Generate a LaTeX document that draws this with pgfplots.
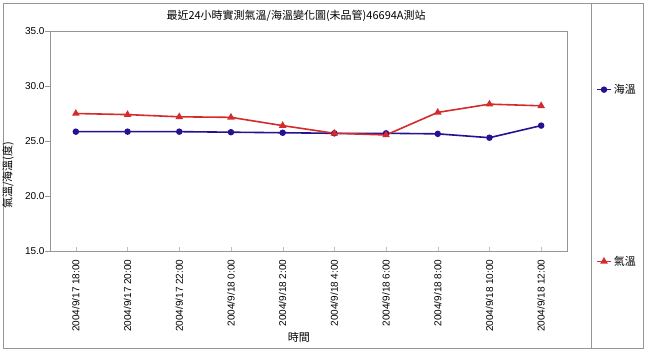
\documentclass[border=0pt]{standalone}
\usepackage{fontspec}
\setmainfont{Liberation Sans}
\newfontfamily\cjk{Noto Sans CJK TC}
\usepackage{pgfplots}
\pgfplotsset{compat=1.18}
\definecolor{seablue}{RGB}{38,18,145}
\definecolor{airred}{RGB}{212,44,44}
\definecolor{frame}{RGB}{150,150,150}
\begin{document}
\begin{tikzpicture}[x=1pt,y=1pt]
\useasboundingbox (0,0) rectangle (645,351);
\fill[white] (0,0) rectangle (645,351);
\draw[frame,line width=0.8pt] (3,3) rectangle (643,348);
\draw[frame,line width=0.8pt] (591,3) -- (591,348);
\begin{axis}[
  at={(50pt,100pt)}, anchor=south west,
  width=517pt, height=220pt, scale only axis,
  xmin=-0.5, xmax=9.5, ymin=15, ymax=35,
  xtick={0,...,9},
  xticklabels={2004/9/17 18:00,2004/9/17 20:00,2004/9/17 22:00,2004/9/18 0:00,2004/9/18 2:00,2004/9/18 4:00,2004/9/18 6:00,2004/9/18 8:00,2004/9/18 10:00,2004/9/18 12:00},
  ytick={15,20,25,30,35},
  yticklabel style={xshift=3pt, /pgf/number format/.cd,fixed,fixed zerofill,precision=1},
  /pgf/number format/assume math mode=true,
  tick label style={font=\fontsize{10}{12}\selectfont},
  x tick label style={rotate=90, anchor=east},
  tick align=outside,
  major tick length=5pt,
  xtick pos=bottom, ytick pos=left,
  tick style={draw=frame},
  xtick style={draw=frame!60, /pgfplots/major tick length=-4pt},
  axis line style={draw=frame},
  title={\cjk 最近24小時實測氣溫/海溫變化圖(未品管)46694A測站},
  title style={at={(axis description cs:0.476,1.041)}, anchor=center, font=\fontsize{11}{13}\selectfont},
  xlabel={\cjk 時間},
  xlabel style={at={(axis description cs:0.4816,-0.391)}, anchor=center, font=\fontsize{11}{13}\selectfont},
  ylabel={\cjk 氣溫/海溫(度)},
  ylabel style={at={(axis description cs:-0.0812,0.345)}, anchor=center, font=\fontsize{11}{13}\selectfont},
  legend style={at={(axis description cs:1.0561,0.343)}, anchor=west, draw=none, fill=none,
    row sep=157pt, font=\fontsize{11}{13}\selectfont\cjk, inner sep=0pt,
    /tikz/every even column/.append style={column sep=2pt}},
  legend cell align=left,
  legend image code/.code={\draw[mark repeat=2,mark phase=2] plot coordinates {(0pt,0pt)(7pt,0pt)(14pt,0pt)};},
]
\addplot[seablue, line width=1.6pt, mark=*, mark size=2.4pt, mark options={solid, fill=seablue}]
  coordinates {(0,25.85)(1,25.85)(2,25.85)(3,25.8)(4,25.75)(5,25.7)(6,25.7)(7,25.65)(8,25.3)(9,26.4)};
\addlegendentry{海溫}
\addplot[airred, line width=1.6pt, mark=triangle*, mark size=2.8pt, mark options={solid, fill=airred}]
  coordinates {(0,27.5)(1,27.4)(2,27.2)(3,27.15)(4,26.4)(5,25.7)(6,25.55)(7,27.6)(8,28.35)(9,28.2)};
\addlegendentry{氣溫}
\end{axis}
\end{tikzpicture}
\end{document}
